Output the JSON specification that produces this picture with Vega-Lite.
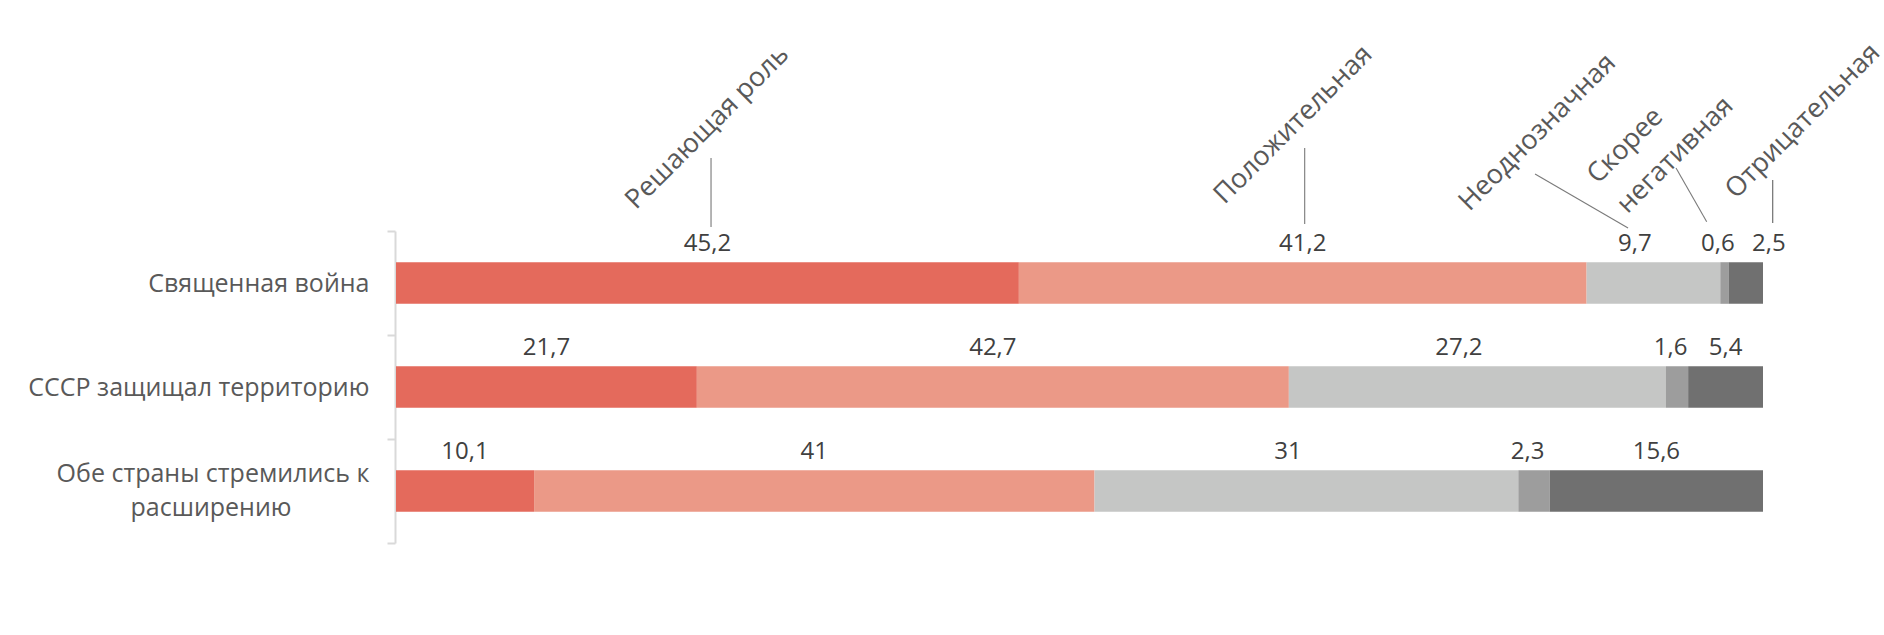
{
  "$schema": "https://vega.github.io/schema/vega-lite/v6.json",
  "width": 1367,
  "height": 312,
  "autosize": "none",
  "padding": {"left": 396, "top": 231, "right": 121, "bottom": 92},
  "background": "#ffffff",
  "config": {
    "view": {"stroke": null},
    "font": "Open Sans"
  },
  "data": {
    "values": [
      {"q": "Священная война", "cat": "Решающая роль", "order": 1, "v": 45.2},
      {"q": "Священная война", "cat": "Положительная", "order": 2, "v": 41.2},
      {"q": "Священная война", "cat": "Неоднозначная", "order": 3, "v": 9.7},
      {"q": "Священная война", "cat": "Скорее негативная", "order": 4, "v": 0.6},
      {"q": "Священная война", "cat": "Отрицательная", "order": 5, "v": 2.5},
      {"q": "СССР защищал территорию", "cat": "Решающая роль", "order": 1, "v": 21.7},
      {"q": "СССР защищал территорию", "cat": "Положительная", "order": 2, "v": 42.7},
      {"q": "СССР защищал территорию", "cat": "Неоднозначная", "order": 3, "v": 27.2},
      {"q": "СССР защищал территорию", "cat": "Скорее негативная", "order": 4, "v": 1.6},
      {"q": "СССР защищал территорию", "cat": "Отрицательная", "order": 5, "v": 5.4},
      {"q": "Обе страны стремились к расширению", "cat": "Решающая роль", "order": 1, "v": 10.1},
      {"q": "Обе страны стремились к расширению", "cat": "Положительная", "order": 2, "v": 41},
      {"q": "Обе страны стремились к расширению", "cat": "Неоднозначная", "order": 3, "v": 31},
      {"q": "Обе страны стремились к расширению", "cat": "Скорее негативная", "order": 4, "v": 2.3},
      {"q": "Обе страны стремились к расширению", "cat": "Отрицательная", "order": 5, "v": 15.6}
    ]
  },
  "transform": [
    {"stack": "v", "groupby": ["q"], "sort": [{"field": "order", "order": "ascending"}], "offset": "normalize", "as": ["v0", "v1"]},
    {"calculate": "(datum.v0 + datum.v1) / 2", "as": "mid"},
    {"calculate": "replace(toString(datum.v), '.', ',')", "as": "label"}
  ],
  "encoding": {
    "y": {
      "field": "q",
      "type": "nominal",
      "sort": ["Священная война", "СССР защищал территорию", "Обе страны стремились к расширению"],
      "scale": {"paddingInner": 0, "paddingOuter": 0}
    }
  },
  "layer": [
    {
      "mark": {"type": "bar", "height": {"band": 0.4}},
      "encoding": {
        "x": {"field": "v0", "type": "quantitative", "scale": {"domain": [0, 1], "nice": false, "zero": false}, "axis": null},
        "x2": {"field": "v1"},
        "y": {
          "field": "q",
          "type": "nominal",
          "sort": ["Священная война", "СССР защищал территорию", "Обе страны стремились к расширению"],
          "axis": {
            "title": null,
            "offset": 1,
            "domainColor": "#d9d9d9",
            "domainWidth": 2,
            "tickColor": "#d9d9d9",
            "tickWidth": 2,
            "tickSize": 8,
            "tickBand": "extent",
            "labelFont": "Open Sans",
            "labelFontSize": 25,
            "labelColor": "#595959",
            "labelPadding": 18,
            "labelLineHeight": 34,
            "labelLimit": 400,
            "labelOffset": {"condition": {"test": "datum.value == 'Обе страны стремились к расширению'", "value": -18}, "value": 0},
            "labelExpr": "datum.value == 'Обе страны стремились к расширению' ? ['Обе страны стремились к', 'расширению\u00a0\u00a0\u00a0\u00a0\u00a0\u00a0\u00a0\u00a0\u00a0\u00a0\u00a0\u00a0\u200b'] : datum.label"
          }
        },
        "color": {
          "field": "cat",
          "type": "nominal",
          "scale": {
            "domain": ["Решающая роль", "Положительная", "Неоднозначная", "Скорее негативная", "Отрицательная"],
            "range": ["#e46a5c", "#eb9987", "#c5c6c5", "#9d9d9d", "#707070"]
          },
          "legend": null
        }
      }
    },
    {
      "transform": [{"filter": "datum.cat == 'Решающая роль' || datum.cat == 'Положительная' || (datum.cat == 'Отрицательная' && datum.q != 'Священная война')"}],
      "mark": {"type": "text", "fontSize": 24, "color": "#404040", "baseline": "alphabetic", "align": "center", "dy": -32},
      "encoding": {"x": {"field": "mid", "type": "quantitative"}, "text": {"field": "label"}}
    },
    {
      "transform": [{"filter": "datum.cat == 'Неоднозначная'"}],
      "mark": {"type": "text", "fontSize": 24, "color": "#404040", "baseline": "alphabetic", "align": "center", "dy": -32, "dx": -18.5},
      "encoding": {"x": {"field": "mid", "type": "quantitative"}, "text": {"field": "label"}}
    },
    {
      "transform": [{"filter": "datum.cat == 'Скорее негативная'"}],
      "mark": {"type": "text", "fontSize": 24, "color": "#404040", "baseline": "alphabetic", "align": "center", "dy": -32, "dx": -6.5},
      "encoding": {"x": {"field": "mid", "type": "quantitative"}, "text": {"field": "label"}}
    },
    {
      "transform": [{"filter": "datum.cat == 'Отрицательная' && datum.q == 'Священная война'"}],
      "mark": {"type": "text", "fontSize": 24, "color": "#404040", "baseline": "alphabetic", "align": "center", "dy": -32, "dx": 23},
      "encoding": {"x": {"field": "mid", "type": "quantitative"}, "text": {"field": "label"}}
    },
    {
      "transform": [{"filter": "datum.q == 'Священная война' && datum.cat == 'Решающая роль'"}],
      "mark": {"type": "text", "fontSize": 27, "color": "#595959", "angle": -45, "align": "center", "baseline": "middle", "dx": 110, "dy": -110},
      "encoding": {"x": {"field": "mid", "type": "quantitative"}, "text": {"value": "Решающая роль"}}
    },
    {
      "transform": [{"filter": "datum.q == 'Священная война' && datum.cat == 'Положительная'"}],
      "mark": {"type": "text", "fontSize": 27, "color": "#595959", "angle": -45, "align": "center", "baseline": "middle", "dx": 105.2, "dy": -118.4},
      "encoding": {"x": {"field": "mid", "type": "quantitative"}, "text": {"value": "Положительная"}}
    },
    {
      "transform": [{"filter": "datum.q == 'Священная война' && datum.cat == 'Неоднозначная'"}],
      "mark": {"type": "text", "fontSize": 27, "color": "#595959", "angle": -45, "align": "center", "baseline": "middle", "dx": 24.5, "dy": -188.4},
      "encoding": {"x": {"field": "mid", "type": "quantitative"}, "text": {"value": "Неоднозначная"}}
    },
    {
      "transform": [{"filter": "datum.q == 'Священная война' && datum.cat == 'Скорее негативная'"}],
      "mark": {"type": "text", "fontSize": 27, "color": "#595959", "angle": -45, "align": "left", "baseline": "middle", "lineHeight": 42, "dx": -20, "dy": -167},
      "encoding": {"x": {"field": "mid", "type": "quantitative"}, "text": {"value": ["Скорее", "негативная"]}}
    },
    {
      "transform": [{"filter": "datum.q == 'Священная война' && datum.cat == 'Отрицательная'"}],
      "mark": {"type": "text", "fontSize": 27, "color": "#595959", "angle": -45, "align": "center", "baseline": "middle", "dx": 154.8, "dy": -73.9},
      "encoding": {"x": {"field": "mid", "type": "quantitative"}, "text": {"value": "Отрицательная"}}
    },
    {
      "transform": [{"filter": "datum.q == 'Священная война' && datum.cat == 'Решающая роль'"}],
      "mark": {"type": "rule", "color": "#8c8c8c", "strokeWidth": 1.3, "xOffset": 3.6, "x2Offset": 3.6, "yOffset": -125, "y2Offset": -56},
      "encoding": {"x": {"field": "mid", "type": "quantitative"}, "x2": {"field": "mid"}, "y2": {"field": "q"}}
    },
    {
      "transform": [{"filter": "datum.q == 'Священная война' && datum.cat == 'Положительная'"}],
      "mark": {"type": "rule", "color": "#8c8c8c", "strokeWidth": 1.3, "xOffset": 1.9, "x2Offset": 1.9, "yOffset": -135, "y2Offset": -59},
      "encoding": {"x": {"field": "mid", "type": "quantitative"}, "x2": {"field": "mid"}, "y2": {"field": "q"}}
    },
    {
      "transform": [{"filter": "datum.q == 'Священная война' && datum.cat == 'Неоднозначная'"}],
      "mark": {"type": "rule", "color": "#7a7a7a", "strokeWidth": 1.1, "xOffset": -118.4, "x2Offset": -25.4, "yOffset": -109, "y2Offset": -55},
      "encoding": {"x": {"field": "mid", "type": "quantitative"}, "x2": {"field": "mid"}, "y2": {"field": "q"}}
    },
    {
      "transform": [{"filter": "datum.q == 'Священная война' && datum.cat == 'Скорее негативная'"}],
      "mark": {"type": "rule", "color": "#7a7a7a", "strokeWidth": 1.1, "xOffset": -48.4, "x2Offset": -17.7, "yOffset": -115, "y2Offset": -61.3},
      "encoding": {"x": {"field": "mid", "type": "quantitative"}, "x2": {"field": "mid"}, "y2": {"field": "q"}}
    },
    {
      "transform": [{"filter": "datum.q == 'Священная война' && datum.cat == 'Отрицательная'"}],
      "mark": {"type": "rule", "color": "#7a7a7a", "strokeWidth": 1.3, "xOffset": 26.9, "x2Offset": 26.9, "yOffset": -103, "y2Offset": -60},
      "encoding": {"x": {"field": "mid", "type": "quantitative"}, "x2": {"field": "mid"}, "y2": {"field": "q"}}
    }
  ]
}
